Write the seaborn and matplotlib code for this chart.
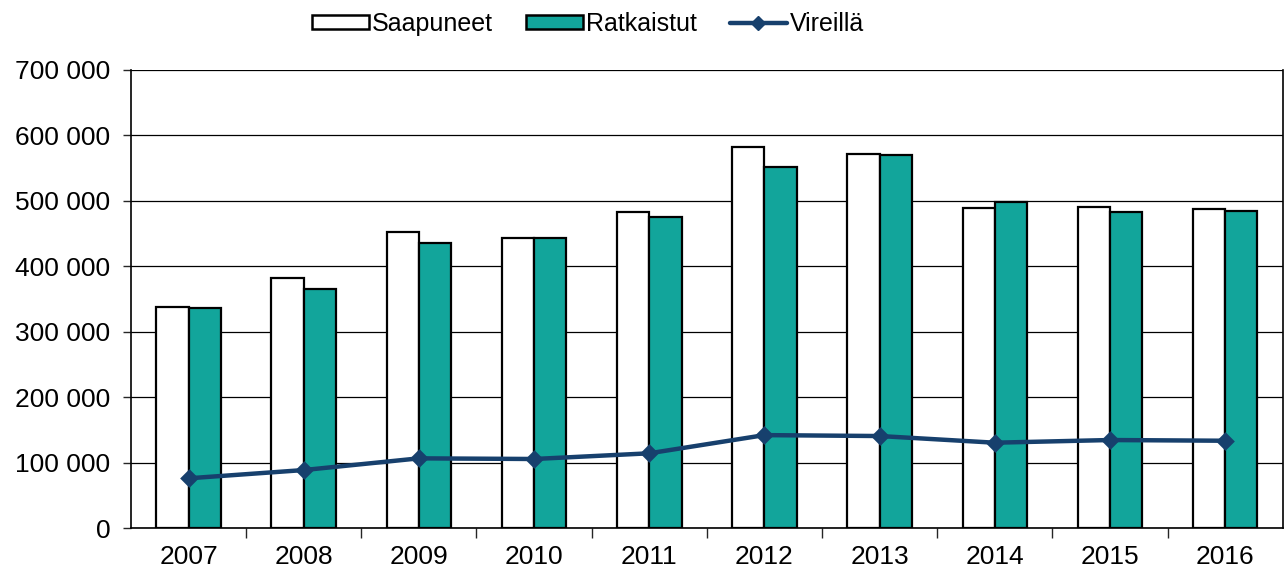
import pandas as pd
import numpy as np
import seaborn as sns
import matplotlib.pyplot as plt
from matplotlib.ticker import FuncFormatter, FixedLocator
from matplotlib.patches import Patch
from matplotlib.lines import Line2D

years = ['2007', '2008', '2009', '2010', '2011', '2012', '2013', '2014', '2015', '2016']
saapuneet = [338000, 382000, 453000, 443700, 483500, 582000, 571000, 489500, 491000, 487000]
ratkaistut = [336000, 365000, 435000, 443500, 475800, 551000, 570000, 498700, 483500, 485000]
vireilla = [76000, 88600, 106500, 105500, 114200, 142000, 140600, 130400, 134500, 133400]
series_names = ['Saapuneet', 'Ratkaistut', 'Vireillä']

teal = '#12A59B'
navy = '#17406D'

df = pd.DataFrame({'vuosi': years * 2,
                   'sarja': [series_names[0]] * len(years) + [series_names[1]] * len(years),
                   'arvo': saapuneet + ratkaistut})

sns.set_style('white')
plt.rcParams['font.family'] = ['Liberation Sans', 'DejaVu Sans']
plt.rcParams['text.color'] = 'black'

fig = plt.figure(figsize=(12.84, 5.69), dpi=100)
ax = fig.add_axes([0.102, 0.072, 0.897, 0.805])

sns.barplot(data=df, x='vuosi', y='arvo', hue='sarja', order=years,
            palette=['white', teal], edgecolor='black', linewidth=1.6,
            width=0.56, saturation=1, ax=ax, legend=False)
sns.pointplot(x=years, y=vireilla, order=years, color=navy, markers='D',
              markersize=7, linewidth=3.2, ax=ax)

ax.set_ylim(0, 700000)
ax.set_xlim(-0.5, len(years) - 0.5)
ax.set_yticks(np.arange(0, 700001, 100000))
ax.yaxis.set_major_formatter(FuncFormatter(lambda v, p: f'{int(v):,}'.replace(',', ' ')))
ax.grid(axis='y', color='black', linewidth=0.9)
ax.set_axisbelow(True)
ax.set_xlabel('')
ax.set_ylabel('')

for s in ['left', 'bottom', 'right']:
    ax.spines[s].set_visible(True)
    ax.spines[s].set_color('black')
    ax.spines[s].set_linewidth(1.2)
ax.spines['top'].set_visible(False)

ax.tick_params(axis='y', labelsize=19, labelcolor='black', length=6, width=1,
               left=True, pad=9)
ax.tick_params(axis='x', which='major', labelsize=19, labelcolor='black', length=0, pad=12)
ax.xaxis.set_minor_locator(FixedLocator(np.arange(0.5, len(years) - 1, 1.0)))
ax.tick_params(axis='x', which='minor', bottom=True, length=7, width=1, direction='out')

handles = [Patch(facecolor='white', edgecolor='black', linewidth=1.8),
           Patch(facecolor=teal, edgecolor='black', linewidth=1.8),
           Line2D([0], [0], color=navy, linewidth=3.2, marker='D', markersize=7)]
fig.legend(handles, series_names, loc='center', bbox_to_anchor=(0.458, 0.958),
           ncol=3, frameon=False, fontsize=18, handlelength=2.25, handleheight=0.45,
           handletextpad=0.12, columnspacing=1.35)

fig.savefig('out.png', dpi=100)
